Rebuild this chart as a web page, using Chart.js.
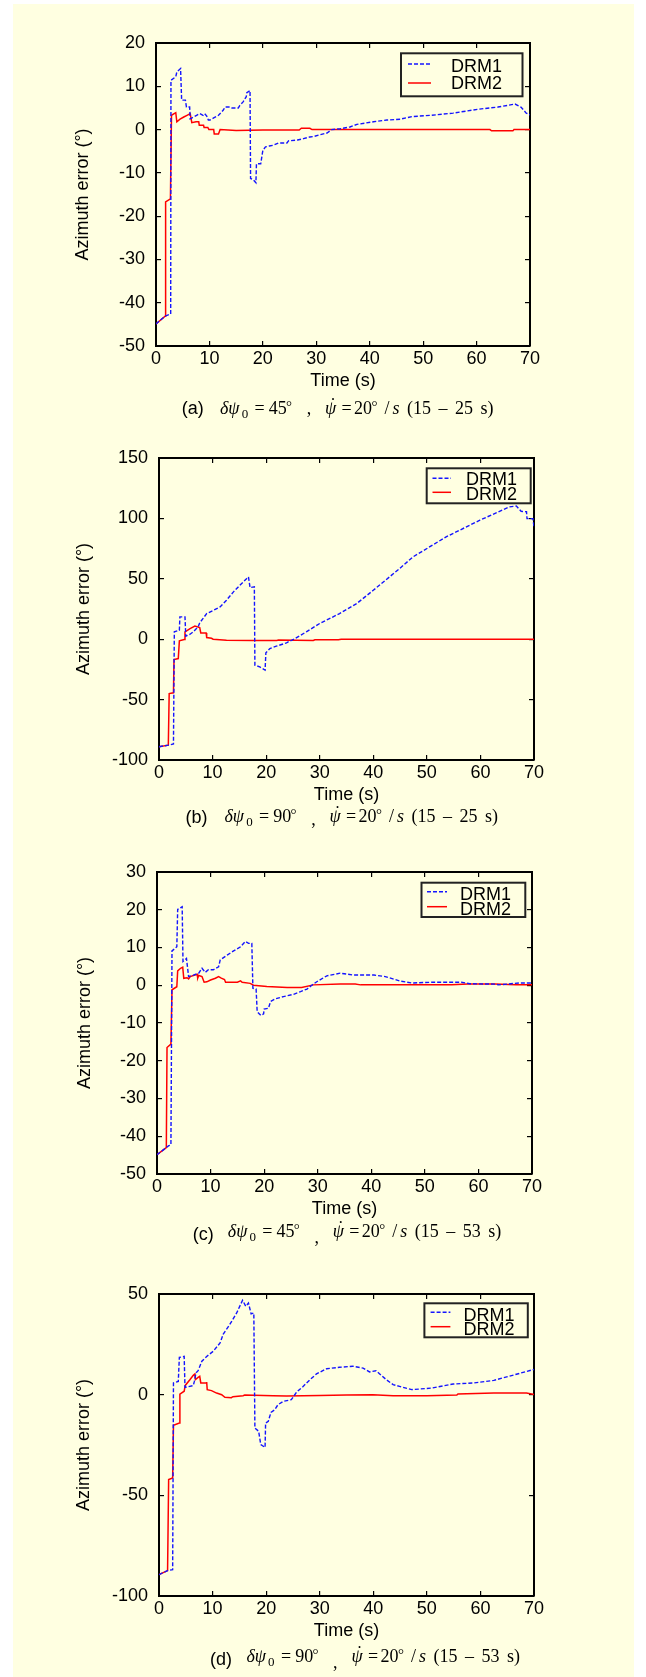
<!DOCTYPE html>
<html><head><meta charset="utf-8">
<script src="https://cdn.jsdelivr.net/npm/chart.js@4.4.1/dist/chart.umd.min.js"></script>
<style>
html,body{margin:0;padding:0;background:#fff;}
body{width:646px;height:1677px;position:relative;overflow:hidden;}
#bg{position:absolute;left:13px;top:4px;width:621px;height:1673px;background:#FFFFE1;}
.panel{position:absolute;left:0;width:646px;}
.cap{position:absolute;white-space:pre;color:#000;}
.sans{font-family:"Liberation Sans",Arial,sans-serif;}
.serif{font-family:"Liberation Serif","Times New Roman",serif;}
</style></head><body>
<div id="bg"></div>
<div id="root"></div>
<script>
// ---------------- data ----------------
const seriesLabels = ['DRM1', 'DRM2'];
const xTitle = 'Time (s)';
const yTitle = 'Azimuth error (°)';
const xTicks = [0, 10, 20, 30, 40, 50, 60, 70];
const yTicksA = [-50, -40, -30, -20, -10, 0, 10, 20];
const yTicksB = [-100, -50, 0, 50, 100, 150];
const yTicksC = [-50, -40, -30, -20, -10, 0, 10, 20, 30];
const yTicksD = [-100, -50, 0, 50];

const panelTags = ['(a)', '(b)', '(c)', '(d)'];
const initialErrors = [45, 90, 45, 90];
const turnRates = [20, 20, 20, 20];
const turnWindows = ['15 – 25 s', '15 – 25 s', '15 – 53 s', '15 – 53 s'];

// (a)
const timeA1 = [0, 1.7, 2.75, 2.8, 3.7, 3.9, 4.6, 4.8, 5.5, 5.7, 6.3, 6.4, 7.0, 7.6, 8.2, 8.8, 9.1, 9.5, 9.8, 10.1, 10.8, 11.7, 12.6, 12.9, 13.8, 14.2, 15.4, 15.7, 16.3, 16.9, 17.0, 17.6, 17.7, 18.2, 18.7, 18.8, 19.6, 20.0, 20.5, 21.2, 22.0, 22.9, 24.5, 24.8, 26.5, 27.6, 28.8, 29.5, 30.7, 32.0, 32.9, 34.5, 36.3, 37.6, 40.7, 43.2, 45.7, 47.9, 51.5, 55.6, 60.3, 64, 67.2, 68.3, 69.3, 70];
const drm1A = [-44.9, -43.1, -42.6, 11.4, 12.2, 13.3, 14.1, 6.8, 6.8, 5.2, 5.2, 2.5, 2.9, 3.3, 3.7, 3.3, 3.7, 3.1, 2.2, 2.2, 2.7, 3.3, 4.5, 5.2, 5.2, 5.0, 5.0, 5.6, 6.4, 7.6, 8.5, 9.0, -11.3, -11.6, -12.3, -7.9, -7.9, -4.8, -4.0, -3.8, -3.6, -3.1, -3.1, -2.6, -2.4, -2.1, -1.7, -1.6, -1.2, -0.8, 0, 0.2, 0.6, 1.2, 1.8, 2.2, 2.4, 3.0, 3.3, 3.8, 4.7, 5.2, 5.9, 5.2, 3.8, 3.4];
const timeA2 = [0, 1.7, 1.8, 2.7, 2.9, 3.7, 3.9, 4.5, 5.2, 5.8, 6.4, 6.7, 7.5, 8.0, 8.1, 8.9, 9.0, 9.7, 9.9, 10.8, 10.9, 11.7, 12.0, 15, 20, 26.8, 27.2, 28.8, 29.2, 35, 45, 55, 62.5, 62.8, 66.8, 67.0, 70];
const drm2A = [-44.9, -43.1, -16.7, -16.0, 3.3, 3.9, 1.8, 2.4, 2.9, 3.3, 3.7, 1.6, 1.8, 1.8, 1.0, 1.0, 0.5, 0.5, 0, 0, -1.0, -1.0, 0, -0.2, -0.1, -0.1, 0.3, 0.3, 0, 0, 0, 0, 0, -0.3, -0.3, 0, 0];

// (b)
const timeB1 = [0, 1.74, 2.7, 2.86, 3.8, 3.9, 4.85, 5.0, 5.8, 6.4, 7.3, 7.6, 8.9, 10.4, 11.4, 12.6, 13.9, 15.1, 16.7, 17.0, 17.8, 17.9, 18.8, 19.8, 19.95, 20.7, 21.9, 23.8, 25.4, 27.5, 30, 33.7, 36.9, 40, 44.9, 47.4, 53.6, 59.9, 65.4, 66.7, 67.6, 68.6, 68.7, 69.8, 70];
const drm1B = [-89, -87.7, -86.8, 6.1, 7.4, 18.5, 18.5, 2.5, 4.1, 6.1, 10.2, 13.5, 21.2, 24.5, 26.7, 32.3, 39.2, 44.7, 51.6, 42.7, 43.3, -21.5, -22.9, -25.6, -11.3, -7.7, -5.8, -3.0, 0.6, 6.1, 13.0, 21.2, 29.5, 40.5, 58.4, 68.1, 84.7, 98.5, 109.5, 110.3, 105.9, 105.5, 99.8, 99.8, 93];
const timeB2 = [0, 1.74, 1.9, 2.7, 2.8, 3.6, 3.8, 4.7, 4.85, 5.8, 6.7, 7.6, 7.8, 8.8, 8.9, 9.8, 10.1, 12.6, 17.6, 22, 22.3, 28.8, 29.1, 33.5, 34, 70];
const drm2B = [-89, -87.7, -45, -44.4, -16.8, -16.0, -1.4, -0.3, 6.1, 8.8, 10.8, 9.6, 5.2, 5.2, 1.4, 0.8, 0, -0.8, -1.1, -1.1, -0.6, -1.1, -0.5, -0.5, 0, 0];

// (c)
const timeC1 = [0, 1.74, 2.2, 2.6, 2.8, 3.4, 3.7, 3.86, 4.7, 4.85, 5.5, 5.9, 6.8, 7.8, 8.4, 9.0, 9.6, 10.5, 11.5, 11.8, 13.1, 14.3, 15.6, 16.5, 17.1, 17.7, 17.9, 18.5, 18.7, 19.4, 19.9, 20.0, 20.8, 21.2, 22.1, 23.6, 25.5, 26.8, 28, 28.9, 29.9, 31.7, 34.2, 36.7, 40.5, 42.6, 45.4, 47.6, 51.4, 56.8, 58.4, 63, 63.8, 67.6, 70];
const drm1C = [-44.9, -43.0, -42.5, -42.3, 9.1, 9.8, 10.2, 20.1, 20.8, 6.3, 7.1, 2.3, 2.7, 3.2, 4.5, 3.4, 4.1, 4.1, 4.9, 6.7, 8.0, 9.1, 10.2, 11.6, 11.1, 11.1, -0.8, -1.0, -7.0, -8.0, -7.6, -6.3, -6.1, -4.3, -3.6, -3.0, -2.4, -1.7, -1.0, 0, 1.0, 2.5, 3.2, 2.7, 2.7, 2.3, 1.1, 0.6, 0.8, 0.8, 0.4, 0.3, 0.1, 0.6, 0.6];
const timeC2 = [0, 1.74, 1.87, 2.6, 2.8, 3.7, 3.86, 4.4, 4.8, 5.0, 5.6, 5.9, 6.2, 7.5, 7.6, 7.8, 8.4, 8.8, 9.3, 10.0, 10.9, 11.5, 12.0, 12.6, 12.8, 15.0, 15.6, 15.9, 17.4, 18.0, 20.5, 24.3, 27.0, 29.2, 34.2, 37.0, 38.0, 45, 55, 58, 63, 67, 70];
const drm2C = [-44.9, -43.0, -16.5, -15.6, -1.2, -0.4, 3.8, 4.5, 4.8, 1.85, 2.0, 1.7, 2.3, 2.9, 1.9, 2.6, 2.3, 0.8, 0.9, 1.4, 1.85, 2.3, 1.9, 1.5, 0.8, 0.8, 1.15, 0.8, 0.5, 0, -0.35, -0.6, -0.6, 0.1, 0.35, 0.3, 0.1, 0.1, 0.1, 0.3, 0.3, 0.1, 0.1];

// (d)
const timeD1 = [0, 1.6, 2.55, 2.7, 3.6, 3.8, 4.7, 4.85, 6.4, 6.6, 6.9, 7.3, 8.0, 8.9, 10.1, 11.4, 12.0, 13.2, 14.5, 15.6, 16.2, 16.7, 17.2, 17.7, 17.9, 18.6, 19.0, 19.8, 19.9, 20.4, 20.9, 21.6, 22.2, 23.2, 24.7, 25.7, 26.9, 28.2, 29.4, 31.3, 33.7, 36.2, 38.1, 39.3, 40.5, 41.2, 42.4, 43.7, 44.9, 47.2, 51, 54.9, 58.7, 62.5, 66.4, 69.8, 70];
const drm1D = [-89.4, -87.4, -86.9, 5.8, 6.6, 18.5, 19, 3.6, 4.5, 6.6, 10.8, 11.9, 16.6, 19, 21.5, 25.7, 30.1, 34.8, 40.6, 46.9, 43.9, 45.5, 40.1, 40.6, -16.6, -18.2, -24.8, -26.2, -14.1, -13.2, -8.8, -7.5, -5.0, -3.3, -2.5, 1.3, 4.1, 7.5, 10.3, 12.9, 13.6, 14.1, 13.2, 11.3, 11.9, 10.3, 7.5, 5.0, 4.1, 2.5, 3.3, 5.3, 5.8, 7.1, 9.9, 12.4, 12.5];
const timeD2 = [0, 1.6, 1.8, 2.55, 2.7, 3.8, 3.9, 4.7, 4.9, 5.8, 6.4, 6.7, 6.8, 7.3, 7.6, 7.8, 8.8, 8.9, 9.0, 9.8, 10.75, 11.7, 12.3, 13.5, 13.8, 15.7, 16.0, 21.3, 23.8, 30, 35, 39.9, 43.7, 50, 55.6, 55.8, 62.5, 68.6, 69.8, 70];
const drm2D = [-89.4, -87.4, -42.2, -41.4, -15.2, -14.1, 0.3, 1.7, 4.6, 7.5, 9.6, 10.3, 7.5, 8.6, 9.1, 5.8, 5.8, 6.3, 2.5, 2.0, 0.8, 0, -1.3, -1.5, -1.0, -0.5, -0.2, -0.5, -0.7, -0.4, -0.2, 0, -0.5, -0.5, -0.2, 0.3, 0.8, 0.8, 0.2, 0.1];

// ---------------- styles / layout ----------------
const BG = '#FFFFE1';
const BLUE = 'rgb(20,20,255)';
const RED = 'rgb(255,0,0)';
const FONT = '"Liberation Sans", Arial, sans-serif';
const WY = 90, HX = 50, TICKLEN = -5;
Chart.defaults.font.family = FONT;
Chart.defaults.color = '#000';

const panels = [
  {top: 0, h: 420, area: {left: 156, right: 530, top: 43, bottom: 346}, yTicks: yTicksA, t1: timeA1, v1: drm1A, t2: timeA2, v2: drm2A, yPad: 6,
   legend: {x: 401, y: 53.3, w: 121.5, h: 43, lx1: 408, lx2: 431, lineDy: [10.7, 29.7], tx: 451, textDy: [13.4, 31.2]},
   cap: {tagX: 181.7, tagB: 414, fX: 220, fB: 414, commaDy: 0}},
  {top: 420, h: 420, area: {left: 159, right: 534, top: 38, bottom: 340}, yTicks: yTicksB, t1: timeB1, v1: drm1B, t2: timeB2, v2: drm2B, yPad: 4.2,
   legend: {x: 426.7, y: 48.3, w: 104, h: 35, lx1: 432.5, lx2: 451, lineDy: [10, 24], tx: 466, textDy: [12, 26.7]},
   cap: {tagX: 185.4, tagB: 823.5, fX: 224.5, fB: 822, commaDy: 3}},
  {top: 840, h: 420, area: {left: 157, right: 532, top: 32, bottom: 334}, yTicks: yTicksC, t1: timeC1, v1: drm1C, t2: timeC2, v2: drm2C, yPad: 7.7,
   legend: {x: 421.5, y: 42.7, w: 103.8, h: 34.3, lx1: 427, lx2: 447, lineDy: [9, 24], tx: 460, textDy: [12.3, 27]},
   cap: {tagX: 192.8, tagB: 1240, fX: 227.8, fB: 1236.7, commaDy: 6}},
  {top: 1260, h: 417, area: {left: 159, right: 534, top: 34, bottom: 336}, yTicks: yTicksD, t1: timeD1, v1: drm1D, t2: timeD2, v2: drm2D, yPad: 4.4,
   legend: {x: 424.4, y: 43.3, w: 103.4, h: 34, lx1: 430.6, lx2: 450.4, lineDy: [9, 23.4], tx: 463.5, textDy: [12.5, 26.4]},
   cap: {tagX: 210, tagB: 1665.5, fX: 246.4, fB: 1661.7, commaDy: 6}}
];

function toXY(ts, vs) { return ts.map((t, i) => ({x: t, y: vs[i]})); }
function fixTicks(arr) { return s => { s.ticks = arr.map(v => ({value: v})); }; }

function legendPlugin(L) {
  return {
    id: 'boxLegend',
    afterDraw(chart) {
      const ctx = chart.ctx;
      ctx.save();
      ctx.fillStyle = BG;
      ctx.fillRect(L.x, L.y, L.w, L.h);
      ctx.strokeStyle = '#222';
      ctx.lineWidth = 2;
      ctx.strokeRect(L.x, L.y, L.w, L.h);
      chart.data.datasets.forEach((ds, i) => {
        const ly = L.y + L.lineDy[i];
        ctx.beginPath();
        ctx.setLineDash(ds.borderDash || []);
        ctx.strokeStyle = ds.borderColor;
        ctx.lineWidth = ds.borderWidth;
        ctx.moveTo(L.lx1, ly); ctx.lineTo(L.lx2, ly);
        ctx.stroke();
        ctx.setLineDash([]);
        ctx.fillStyle = '#000';
        ctx.font = '18px ' + FONT;
        ctx.textBaseline = 'middle';
        ctx.textAlign = 'left';
        ctx.fillText(ds.label, L.tx, L.y + L.textDy[i]);
      });
      ctx.restore();
    }
  };
}

function axisCommon(ticksArr, fitFn, showLabels, pad) {
  return {
    type: 'linear',
    min: ticksArr[0], max: ticksArr[ticksArr.length - 1],
    afterBuildTicks: fixTicks(ticksArr),
    afterFit: fitFn,
    grid: {drawOnChartArea: false, drawTicks: true, tickLength: TICKLEN, color: '#000', lineWidth: 1.2},
    border: {display: true, color: '#000', width: 2},
    ticks: {display: showLabels, padding: pad, color: '#000', font: {family: FONT, size: 18}, maxRotation: 0, autoSkip: false}
  };
}

const root = document.getElementById('root');
panels.forEach((p, k) => {
  const wrap = document.createElement('div');
  wrap.className = 'panel';
  wrap.style.top = p.top + 'px';
  wrap.style.height = p.h + 'px';
  const cv = document.createElement('canvas');
  cv.width = 646; cv.height = p.h;
  cv.style.width = '646px'; cv.style.height = p.h + 'px';
  wrap.appendChild(cv);
  root.appendChild(wrap);

  const x = axisCommon(xTicks, s => { s.height = HX; }, true, 7);
  x.position = 'bottom';
  x.title = {display: true, text: xTitle, color: '#000', font: {family: FONT, size: 18}, padding: {top: 0, bottom: 3.7}};
  const x2 = axisCommon(xTicks, s => { s.height = 0; }, false, 0);
  x2.position = 'top';
  const y = axisCommon(p.yTicks, s => { s.width = WY; }, true, 16);
  y.position = 'left';
  y.title = {display: true, text: yTitle, color: '#000', font: {family: FONT, size: 18}, padding: {top: p.yPad, bottom: 0}};
  const y2 = axisCommon(p.yTicks, s => { s.width = 0; }, false, 0);
  y2.position = 'right';

  new Chart(cv, {
    type: 'line',
    data: {datasets: [
      {label: seriesLabels[0], data: toXY(p.t1, p.v1), borderColor: BLUE, borderWidth: 1.4, borderDash: [4, 2], pointRadius: 0, tension: 0, fill: false},
      {label: seriesLabels[1], data: toXY(p.t2, p.v2), borderColor: RED, borderWidth: 1.5, pointRadius: 0, tension: 0, fill: false}
    ]},
    options: {
      responsive: false, animation: false, devicePixelRatio: 1,
      layout: {padding: {left: p.area.left - WY, right: 646 - p.area.right, top: p.area.top, bottom: p.h - p.area.bottom - HX}},
      plugins: {legend: {display: false}, tooltip: {enabled: false}, title: {display: false}},
      scales: {x: x, x2: x2, y: y, y2: y2}
    },
    plugins: [legendPlugin(p.legend)]
  });

  // caption (HTML text)
  const c = p.cap;
  const pieces = [
    [panelTags[k], c.tagX, c.tagB, 'sans', 18, false],
    ['δψ', c.fX, c.fB, 'serif', 18, true],
    ['0', c.fX + 21.7, c.fB + 4, 'serif', 13, false],
    ['=', c.fX + 34.5, c.fB, 'serif', 18, false],
    [String(initialErrors[k]), c.fX + 48.8, c.fB, 'serif', 18, false],
    ['°', c.fX + 66, c.fB - 2, 'serif', 15, false],
    [',', c.fX + 86.7, c.fB + c.commaDy, 'serif', 18, false],
    ['ψ', c.fX + 105, c.fB, 'serif', 18, true],
    ['˙', c.fX + 110, c.fB - 3, 'serif', 18, false],
    ['=', c.fX + 121.5, c.fB, 'serif', 18, false],
    [String(turnRates[k]), c.fX + 134, c.fB, 'serif', 18, false],
    ['°', c.fX + 151.5, c.fB - 2, 'serif', 15, false],
    ['/', c.fX + 164.5, c.fB, 'serif', 18, false],
    ['s', c.fX + 172.5, c.fB, 'serif', 18, true],
    ['(' + turnWindows[k] + ')', c.fX + 187, c.fB, 'serif', 18, false]
  ];
  pieces.forEach(([txt, px, base, fam, size, ital]) => {
    const sp = document.createElement('div');
    sp.className = 'cap ' + fam;
    sp.textContent = txt;
    sp.style.fontSize = size + 'px';
    sp.style.lineHeight = size + 'px';
    sp.style.left = px + 'px';
    sp.style.top = (base - size * 0.84) + 'px';
    if (ital) sp.style.fontStyle = 'italic';
    if (txt.startsWith('(1')) sp.style.wordSpacing = '3px';
    document.body.appendChild(sp);
  });
});
</script>
</body></html>
